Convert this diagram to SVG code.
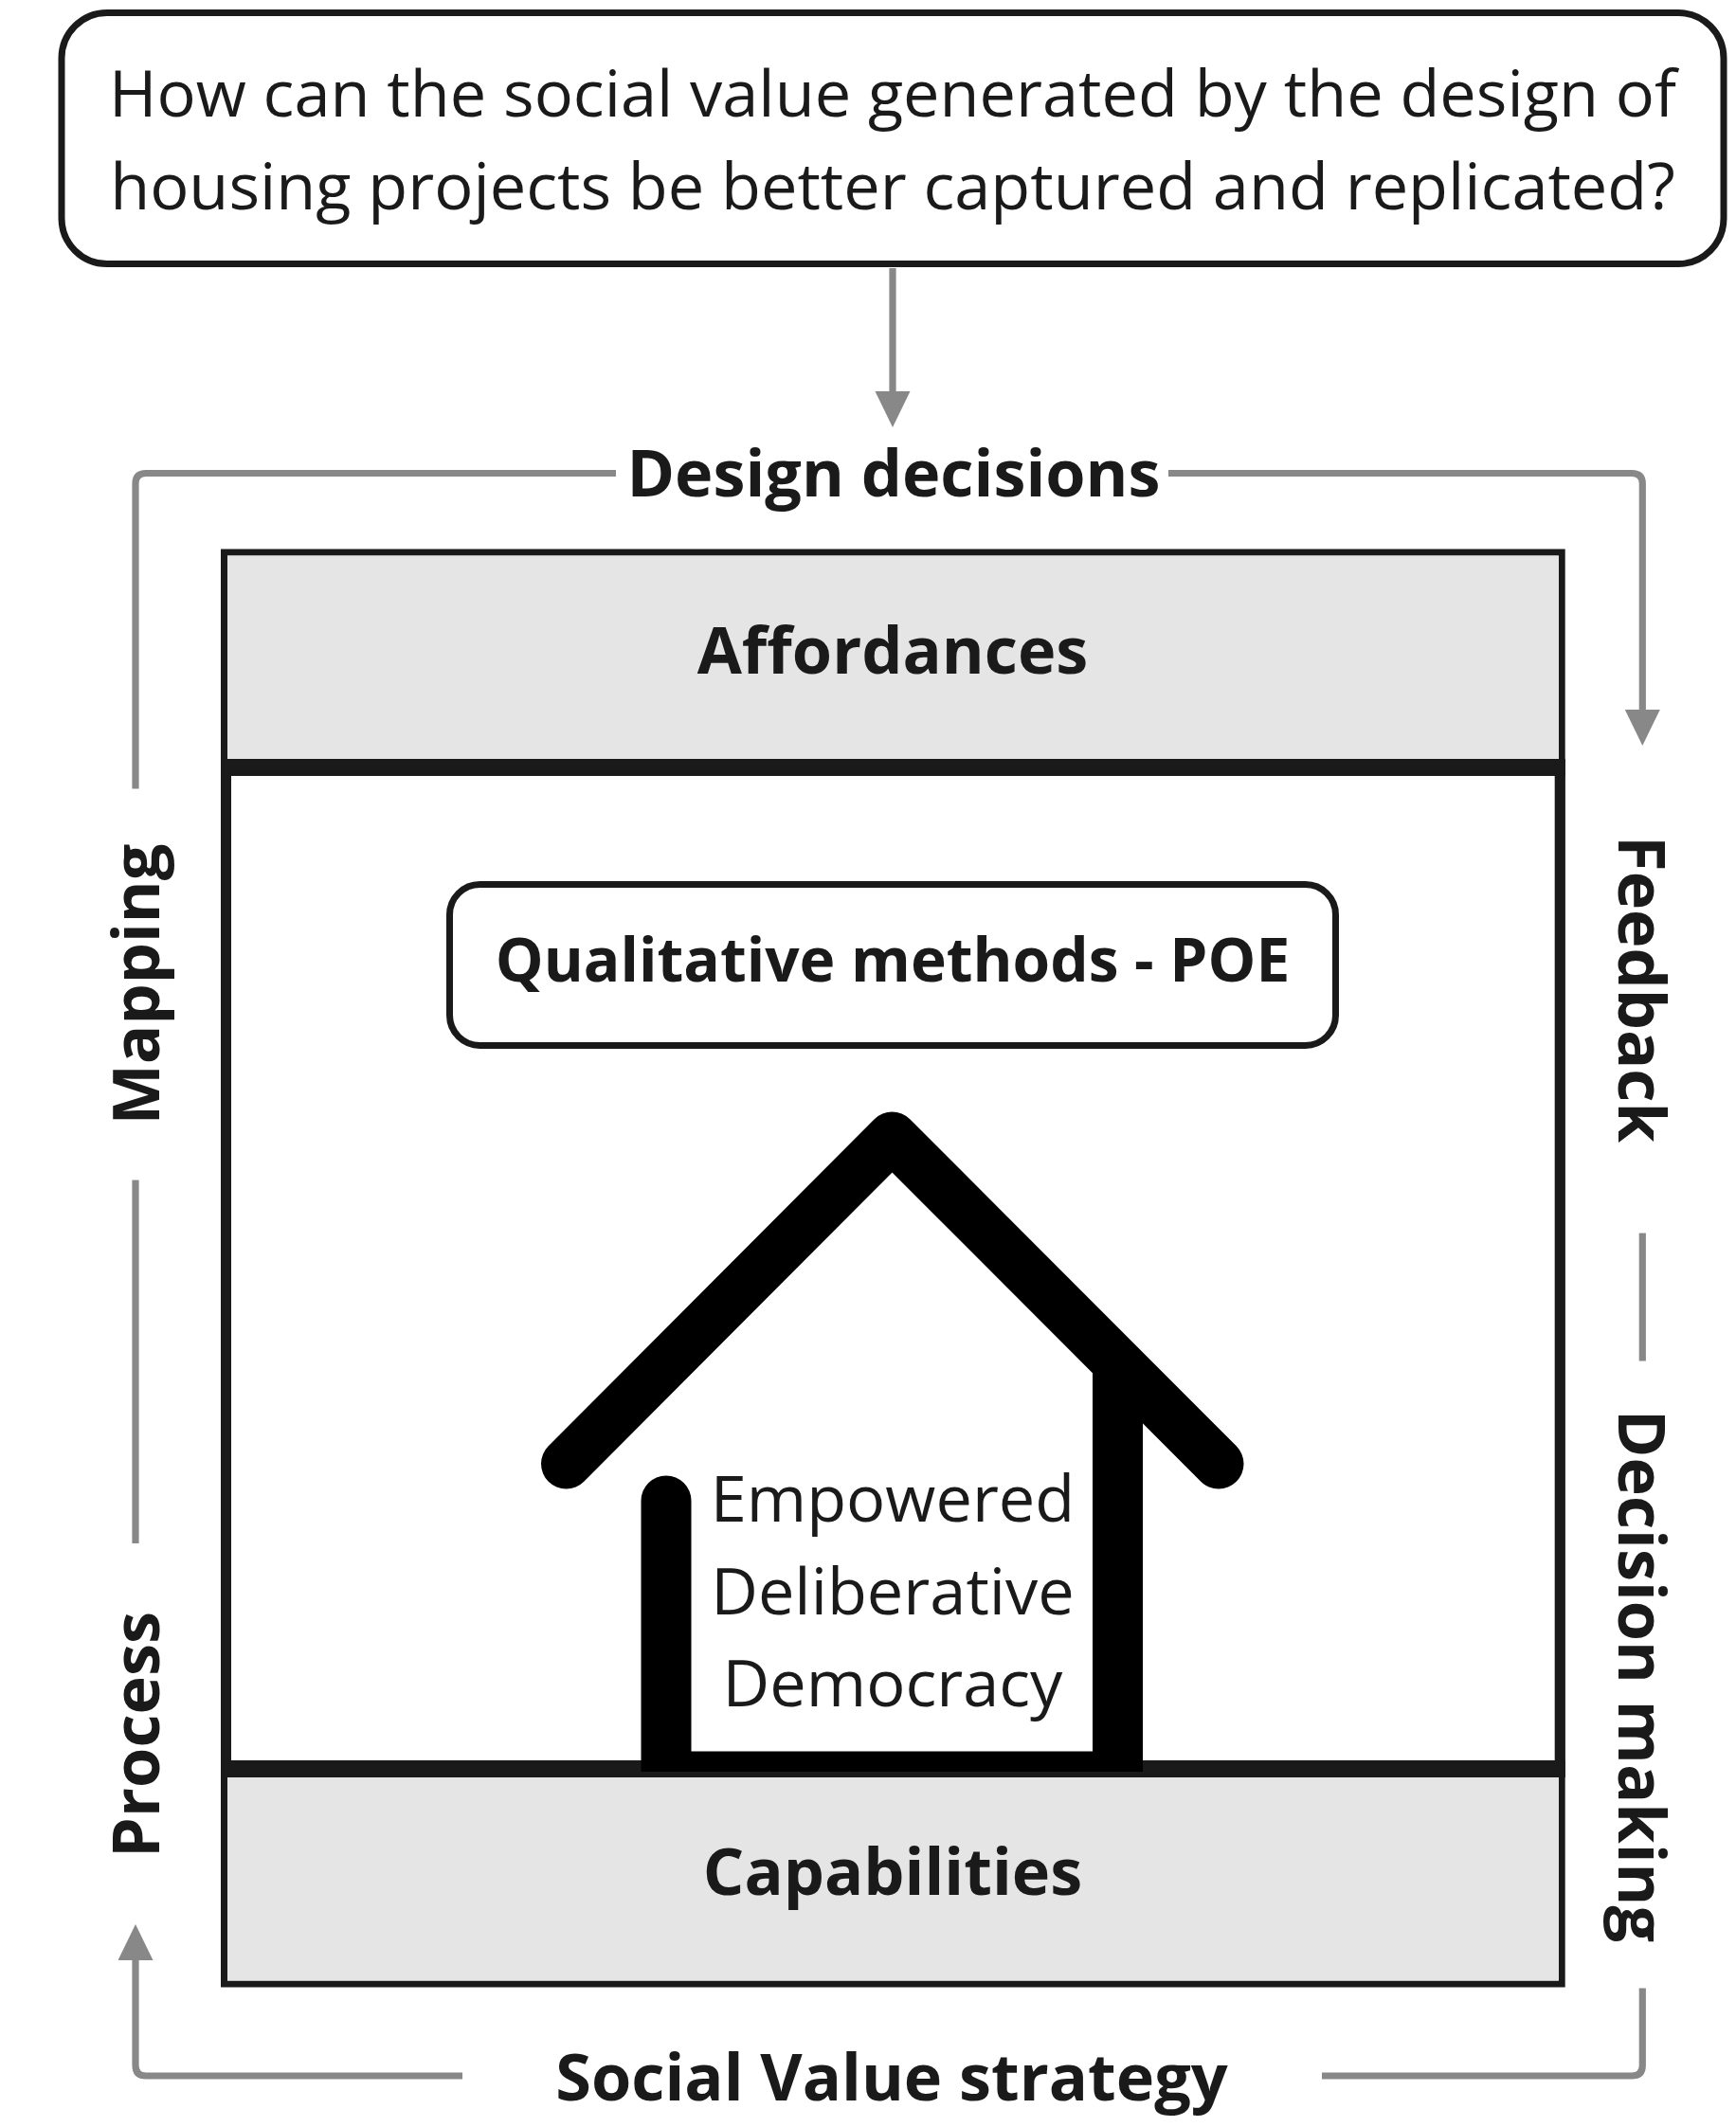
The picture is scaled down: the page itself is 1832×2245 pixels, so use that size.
<svg xmlns="http://www.w3.org/2000/svg" width="1832" height="2245" viewBox="0 0 1832 2245">
<style>
text{font-family:"Open Sans","Noto Sans",sans-serif;fill:#1a1a1a;text-anchor:middle}
.r{font-size:68.5px}
.b{font-size:68.4px;font-weight:700}
.q{font-size:64px;font-weight:700}
.d{fill:#1a1a1a;stroke:none}
.c{fill:none;stroke:#888;stroke-width:7.2}
.h{fill:#000;stroke:none}
</style>
<defs>
<marker id="a" markerUnits="userSpaceOnUse" markerWidth="38" markerHeight="38" refX="5" refY="18.5" orient="auto"><path d="M0 0L38 18.5L0 37Z" fill="#888"/></marker>
</defs>
<rect width="1832" height="2245" fill="#fff"/>
<g id="frame">
<rect x="236.500" y="583" width="1411.700" height="1511" fill="#fff" stroke="#1a1a1a" stroke-width="7"/>
<rect x="240" y="586.500" width="1405" height="214.500" fill="#e5e5e5"/>
<rect x="240" y="1876" width="1405" height="214.500" fill="#e5e5e5"/>
<rect x="233" y="801" width="1418.700" height="18" class="d"/>
<rect x="233" y="1858" width="1418.700" height="18" class="d"/>
<rect x="233" y="801" width="11" height="1075" class="d"/>
<rect x="1640.700" y="801" width="11" height="1075" class="d"/>
</g>
<g id="question">
<rect x="65" y="13.500" width="1754" height="265" rx="48" fill="#fff" stroke="#1a1a1a" stroke-width="7"/>
<text class="r" x="942" y="123">How can the social value generated by the design of</text>
<text class="r" x="942" y="221">housing projects be better captured and replicated?</text>
</g>
<g id="connectors">
<path class="c" marker-end="url(#a)" d="M942 283V418"/>
<path class="c" d="M650 499.500H154Q143 499.500 143 510.500V832.500"/>
<path class="c" d="M143 1245.500V1629"/>
<path class="c" marker-end="url(#a)" d="M1233 499.500H1722Q1733.300 499.500 1733.300 510.500V754"/>
<path class="c" d="M1733.300 1301.500V1436.500"/>
<path class="c" d="M1733.300 2098.500V2180Q1733.300 2191 1722 2191H1395"/>
<path class="c" marker-end="url(#a)" d="M488 2191H154Q143 2191 143 2180V2064"/>
</g>
<g id="design-decisions"><text class="b" x="943" y="524">Design decisions</text></g>
<g id="affordances"><text class="b" x="942" y="711">Affordances</text></g>
<g id="methods">
<rect x="474.500" y="933.500" width="935" height="170" rx="32" fill="#fff" stroke="#1a1a1a" stroke-width="7"/>
<text class="q" x="942" y="1036">Qualitative methods - POE</text>
</g>
<g id="house">
<path d="M597.500 1545L941.500 1200L1286 1545" fill="none" stroke="#000" stroke-width="53" stroke-linecap="round" stroke-linejoin="round"/>
<path class="h" d="M676.500 1870V1584A26.500 26.500 0 0 1 729.500 1584V1848.500H1153V1440H1206V1870Z"/>
<text class="r" x="942" y="1606">Empowered</text>
<text class="r" x="942" y="1703.500">Deliberative</text>
<text class="r" x="942" y="1801">Democracy</text>
</g>
<g id="capabilities"><text class="b" x="942" y="2000">Capabilities</text></g>
<g id="social-value"><text class="b" x="941" y="2217">Social Value strategy</text></g>
<g id="mapping"><text class="b" transform="translate(168 1039) rotate(-90)">Mapping</text></g>
<g id="process"><text class="b" transform="translate(168 1831) rotate(-90)">Process</text></g>
<g id="feedback"><text class="b" transform="translate(1707.500 1044) rotate(90)">Feedback</text></g>
<g id="decision-making"><text class="b" transform="translate(1707.500 1769) rotate(90)">Decision making</text></g>
</svg>
